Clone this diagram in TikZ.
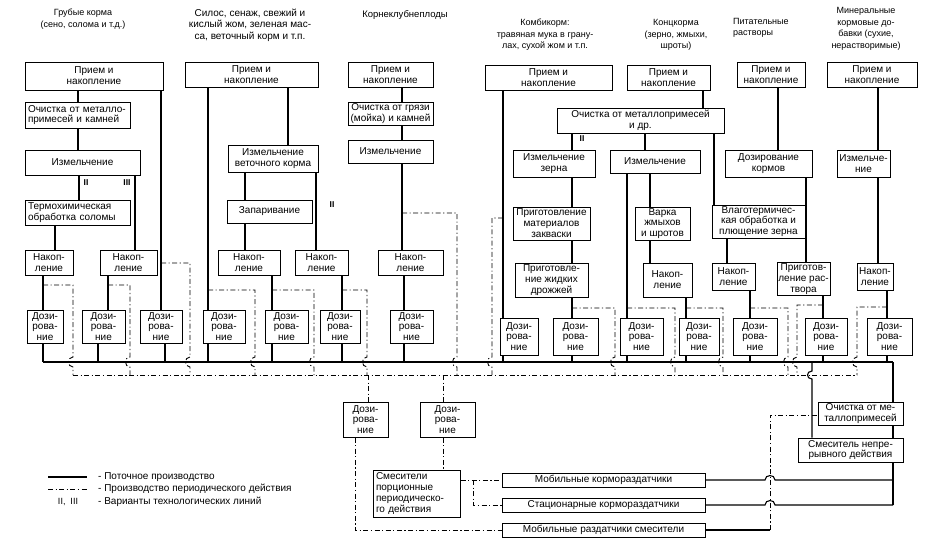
\documentclass[tikz,border=0pt]{standalone}
\usepackage{fontspec}
\setmainfont{Liberation Sans}
\newcommand{\bx}[7][]{%
  \pgfmathsetmacro\bxw{(#5)-(#3)}\pgfmathsetmacro\bxh{(#6)-(#4)}%
  \pgfmathsetmacro\bxt{(#5)-(#3)-6}%
  \pgfmathsetmacro\bxx{((#3)+(#5))/2}\pgfmathsetmacro\bxy{((#4)+(#6))/2}%
  \node[box,minimum width=\bxw pt,minimum height=\bxh pt,#1] (#2) at (\bxx,\bxy) {#7};}
% vertical connector from node #2 (south) to node #3 (north) at x=#4
\newcommand{\vc}[4][ln]{\draw[#1] (#2.south -| #4,0) -- (#3.north -| #4,0);}
% periodic branch from (#1,#2) to x=#3 then down to the periodic bus with a hop
\newcommand{\br}[3]{\draw[pd] (#1,#2) -- (#3,#2) -- (#3,357) .. controls ({#3-6},357) and ({#3-6},367) .. (#3,367) -- (#3,375);}
\begin{document}
\begin{tikzpicture}[x=1pt,y=-1pt,
  box/.style={draw,line width=1pt,inner sep=1pt,align=center,fill=white,font=\fontsize{10}{10.9}\selectfont},
  lft/.style={text width=\bxt pt,align=left},
  ln/.style={line width=1.1pt},
  pd/.style={line width=0.9pt,dash pattern=on 5pt off 2.5pt on 1.2pt off 2.5pt},
  lbl/.style={font=\fontsize{9}{11.5}\selectfont,align=center,inner sep=0pt},
  rn/.style={font=\fontsize{8.5}{10}\selectfont\bfseries,inner sep=0pt}]
\useasboundingbox (0,0) rectangle (928,550);

% ---------- headers
\node[lbl] (hA) at (83,19) {Грубые корма\\(сено, солома и т.д.)};
\node[lbl,font=\fontsize{10}{11.5}\selectfont] (hB) at (250,25) {Силос, сенаж, свежий и\\кислый жом, зеленая мас-\\са, веточный корм и т.п.};
\node[lbl,font=\fontsize{9.5}{11.5}\selectfont] (hC) at (405,15) {Корнеклубнеплоды};
\node[lbl] (hD) at (545,35) {Комбикорм:\\травяная мука в грану-\\лах, сухой жом и т.п.};
\node[lbl] (hE) at (676,35) {Концкорма\\(зерно, жмыхи,\\шроты)};
\node[lbl,align=left,anchor=west] (hF) at (733,28) {Питательные\\растворы};
\node[lbl] (hG) at (866,29) {Минеральные\\кормовые до-\\бавки (сухие,\\нерастворимые)};

% ---------- buses
\coordinate (busL) at (43,362);
\coordinate (busR) at (893,362);
\draw[ln] (busL) -- (busR);
\coordinate (pbL) at (73,375);
\coordinate (pbR) at (857,375);
\draw[pd] (pbL) -- (pbR);

% ---------- group A
\bx{A1}{25}{62}{163}{90}{Прием и\\накопление}
\bx[lft]{A2}{25}{102}{130}{128}{Очистка от металло-\\примесей и камней}
\bx{A3}{25}{150}{140}{175}{Измельчение}
\bx[lft]{A4}{25}{200}{130}{225}{Термохимическая\\обработка соломы}
\bx{A5}{25}{250}{73}{275}{Накоп-\\ление}
\bx{A6}{100}{250}{157}{275}{Накоп-\\ление}
\bx{dA1}{27}{310}{63}{343}{Дози-\\рова-\\ние}
\bx{dA2}{82}{310}{125}{343}{Дози-\\рова-\\ние}
\bx{dA3}{140}{310}{182}{343}{Дози-\\рова-\\ние}
\vc{A1}{A2}{78}
\vc{A2}{A3}{78}
\vc{A3}{A4}{79}
\vc{A3}{A6}{135}
\vc{A4}{A5}{55}
\vc{A5}{dA1}{43}
\vc{A6}{dA2}{108}
\vc{A1}{dA3}{161}
\draw[ln] (dA1.south -| 43,0) -- (43,362);
\draw[ln] (dA2.south -| 98,0) -- (98,362);
\draw[ln] (dA3.south -| 165,0) -- (165,362);
\node[rn] (rA2) at (86,183) {II};
\node[rn] (rA3) at (127,183) {III};
\br{43}{285}{73}
\br{108}{285}{130}
\br{161}{263}{190}

% ---------- group B
\bx{B1}{185}{62}{318}{87}{Прием и\\накопление}
\bx{B3}{228}{145}{318}{172}{Измельчение\\веточного корма}
\bx{B4}{227}{200}{312}{223}{Запаривание}
\bx{B5}{218}{250}{280}{275}{Накоп-\\ление}
\bx{B6}{295}{250}{348}{275}{Накоп-\\ление}
\bx{dB1}{203}{310}{245}{343}{Дози-\\рова-\\ние}
\bx{dB2}{265}{310}{308}{343}{Дози-\\рова-\\ние}
\bx{dB3}{320}{310}{360}{343}{Дози-\\рова-\\ние}
\vc{B1}{B3}{288}
\vc{B3}{B4}{245}
\vc{B3}{B6}{316}
\vc{B4}{B5}{245}
\vc{B5}{dB2}{272}
\vc{B6}{dB3}{342}
\vc{B1}{dB1}{208}
\draw[ln] (dB1.south -| 208,0) -- (208,362);
\draw[ln] (dB2.south -| 272,0) -- (272,362);
\draw[ln] (dB3.south -| 342,0) -- (342,362);
\node[rn] (rB2) at (332,205) {II};
\br{208}{290}{255}
\br{272}{290}{314}
\br{342}{290}{367}

% ---------- group C
\bx{C1}{348}{62}{433}{87}{Прием и\\накопление}
\bx{C2}{348}{102}{433}{125}{Очистка от грязи\\(мойка) и камней}
\bx{C3}{348}{140}{433}{163}{Измельчение}
\bx{C5}{378}{250}{443}{275}{Накоп-\\ление}
\bx{dC}{390}{310}{433}{343}{Дози-\\рова-\\ние}
\vc{C1}{C2}{402}
\vc{C2}{C3}{402}
\vc{C3}{C5}{402}
\vc{C5}{dC}{404}
\draw[ln] (dC.south -| 404,0) -- (404,362);
\br{402}{213}{457}

% ---------- groups D, E (combined feed, concentrates)
\bx{D1}{485}{65}{612}{90}{Прием и\\накопление}
\bx{E1}{627}{65}{710}{90}{Прием и\\накопление}
\bx{DE2}{557}{108}{724}{133}{Очистка от металлопримесей\\и др.}
\bx{D3}{513}{150}{595}{177}{Измельчение\\зерна}
\bx{E3}{610}{150}{700}{173}{Измельчение}
\bx{D4}{513}{207}{590}{240}{Приготовление\\материалов\\закваски}
\bx{D5}{515}{263}{588}{297}{Приготовле-\\ние жидких\\дрожжей}
\bx{E4}{635}{207}{690}{240}{Варка\\жмыхов\\и шротов}
\bx{E5}{643}{263}{692}{297}{Накоп-\\ление}
\bx{dD1}{500}{318}{538}{355}{Дози-\\рова-\\ние}
\bx{dD2}{553}{318}{598}{355}{Дози-\\рова-\\ние}
\bx{dE1}{620}{318}{663}{355}{Дози-\\рова-\\ние}
\bx{dE2}{679}{318}{719}{355}{Дози-\\рова-\\ние}
\vc{D1}{dD1}{503}
\vc{E1}{DE2}{703}
\vc{DE2}{D3}{572}
\vc{DE2}{E3}{645}
\vc{D3}{D4}{572}
\vc{D4}{D5}{572}
\vc{D5}{dD2}{572}
\vc{E3}{E4}{650}
\vc{E4}{E5}{650}
\vc{E5}{dE2}{686}
\vc{E3}{dE1}{627}
\draw[ln] (dD1.south -| 503,0) -- (503,362);
\draw[ln] (dD2.south -| 572,0) -- (572,362);
\draw[ln] (dE1.south -| 627,0) -- (627,362);
\draw[ln] (dE2.south -| 686,0) -- (686,362);
\node[rn] (rD2) at (582,139) {II};
\br{503}{218}{492}
\br{572}{308}{615}
\br{627}{308}{675}
\br{686}{308}{723}

% ---------- group F (nutrient solutions)
\bx{F1}{737}{62}{805}{87}{Прием и\\накопление}
\bx{F3}{725}{150}{812}{177}{Дозирование\\кормов}
\bx{F4}{712}{205}{805}{238}{Влаготермичес-\\кая обработка и\\плющение зерна}
\bx{F5}{712}{263}{755}{290}{Накоп-\\ление}
\bx{F6}{777}{263}{830}{295}{Приготов-\\ление рас-\\твора}
\bx{dF1}{733}{318}{777}{355}{Дози-\\рова-\\ние}
\bx{dF2}{805}{318}{847}{355}{Дози-\\рова-\\ние}
\vc{F1}{F3}{778}
\vc{DE2}{F4}{714}
\vc{F3}{F6}{806}
\vc{F4}{F5}{727}
\vc{F5}{dF1}{750}
\vc{F6}{dF2}{823}
\draw[ln] (dF1.south -| 750,0) -- (750,362);
\draw[ln] (dF2.south -| 823,0) -- (823,362);
\br{750}{308}{788}
\br{823}{305}{797}

% ---------- group G (mineral additives)
\bx{G1}{827}{62}{917}{87}{Прием и\\накопление}
\bx{G3}{837}{150}{890}{177}{Измельче-\\ние}
\bx{G5}{857}{263}{893}{290}{Накоп-\\ление}
\bx{dG}{867}{318}{912}{355}{Дози-\\рова-\\ние}
\vc{G1}{G3}{878}
\vc{G3}{G5}{878}
\vc{G5}{dG}{887}
\draw[ln] (dG.south -| 887,0) -- (887,362);
\br{887}{307}{857}

% ---------- lower part
\bx{H1}{343}{402}{388}{437}{Дози-\\рова-\\ние}
\bx{H2}{420}{402}{475}{437}{Дози-\\рова-\\ние}
\bx[lft]{Mix}{373}{470}{460}{517}{Смесители\\порционные\\периодическо-\\го действия}
\bx{M1}{502}{473}{705}{487}{Мобильные кормораздатчики}
\bx{M2}{502}{498}{705}{512}{Стационарные кормораздатчики}
\bx{M3}{502}{523}{705}{537}{Мобильные раздатчики смесители}
\bx{O}{818}{402}{903}{425}{Очистка от ме-\\таллопримесей}
\bx{S}{798}{438}{903}{462}{Смеситель непре-\\рывного действия}

\draw[pd] (368,375) -- (H1.north -| 368,0);
\draw[pd] (443,375) -- (H2.north -| 443,0);
\draw[pd] (H1.south -| 355,0) |- (M3.west);
\draw[pd] (H2.south -| 443,0) -- (Mix.north -| 443,0);
\draw[pd] (Mix.east |- M1.west) -- (M1.west);
\draw[pd] (473,480) |- (M2.west);

\draw[ln] (busR) -- (O.north -| busR);
\draw[ln] (O.south -| 893,0) -- (S.north -| 893,0);
\draw[ln] (S.south -| 893,0) -- (893,505);
\draw[ln] (812,362) -- (812,371) .. controls (806,371) and (806,379) .. (812,379) -- (S.north -| 812,0);
\draw[ln] (M1.east) -- (765,480) .. controls (765,474) and (775,474) .. (775,480) -- (893,480);
\draw[ln] (M2.east) -- (765,505) .. controls (765,499) and (775,499) .. (775,505) -- (893,505);
\draw[ln] (M3.east) -- (770,530);
\draw[pd] (770,530) -- (770,415) -- (O.west |- 0,415);

% ---------- legend
\draw[ln] (48,477) -- (87,477);
\draw[pd] (48,489) -- (87,489);
\node[rn,font=\fontsize{9}{10}\selectfont] (lgIII) at (68,502) {II,\ \ III};
\node[lbl,anchor=west,font=\fontsize{10}{11}\selectfont] (lg1) at (98,477) {- Поточное производство};
\node[lbl,anchor=west,font=\fontsize{10}{11}\selectfont] (lg2) at (98,489) {- Производство периодического действия};
\node[lbl,anchor=west,font=\fontsize{10}{11}\selectfont] (lg3) at (98,502) {- Варианты технологических линий};
\end{tikzpicture}
\end{document}
